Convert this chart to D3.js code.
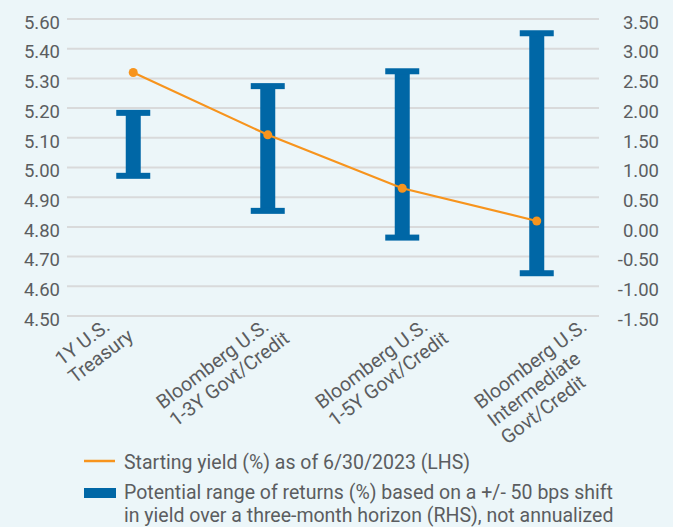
<!DOCTYPE html>
<html>
<head>
<meta charset="utf-8">
<script src="https://cdn.jsdelivr.net/npm/d3@7"></script>
<style>
  body { margin: 0; background: #ecf6f9; }
  text { font-family: Roboto, "DejaVu Sans", sans-serif; fill: #5b5d60; }
</style>
</head>
<body>
<div id="chart"></div>
<script>
// Data
// ================================
var categories = ["1Y U.S. Treasury", "Bloomberg U.S. 1-3Y Govt/Credit",
  "Bloomberg U.S. 1-5Y Govt/Credit", "Bloomberg U.S. Intermediate Govt/Credit"];
var categoryLines = [
  ["1Y U.S.", "Treasury"],
  ["Bloomberg U.S.", "1-3Y Govt/Credit"],
  ["Bloomberg U.S.", "1-5Y Govt/Credit"],
  ["Bloomberg U.S.", "Intermediate", "Govt/Credit"]
];
var startingYield = [5.32, 5.11, 4.93, 4.82];   // LHS
var rangeHigh = [1.92, 2.37, 2.62, 3.26];       // RHS
var rangeLow = [0.86, 0.27, -0.18, -0.78];      // RHS

var leftTicks = [4.5, 4.6, 4.7, 4.8, 4.9, 5.0, 5.1, 5.2, 5.3, 5.4, 5.5];
var leftTickLabels = ["4.50", "4.60", "4.70", "4.80", "4.90", "5.00", "5.10", "5.20", "5.30", "5.40", "5.60"];
var rightTicks = [-1.5, -1, -0.5, 0, 0.5, 1, 1.5, 2, 2.5, 3, 3.5];

var legendYield = "Starting yield (%) as of 6/30/2023 (LHS)";
var legendRange = ["Potential range of returns (%) based on a +/- 50 bps shift",
  "in yield over a three-month horizon (RHS), not annualized"];

// Set up chart
// ================================
var svgWidth = 673;
var svgHeight = 527;
var plot = { left: 67, right: 599, top: 19, bottom: 316 };

var blue = "#0067a6";
var orange = "#f7941d";
var grid = "#d9dadb";

var svg = d3.select("#chart")
  .append("svg")
  .attr("width", svgWidth)
  .attr("height", svgHeight);

svg.append("rect")
  .attr("width", svgWidth)
  .attr("height", svgHeight)
  .attr("fill", "#ecf6f9");

// scales
var xScale = d3.scalePoint()
  .domain(categories)
  .range([66, 604])
  .padding(0.5);

var labelScale = d3.scalePoint()
  .domain(categories)
  .range([111, 588]);

var yLeft = d3.scaleLinear()
  .domain([4.5, 5.5])
  .range([plot.bottom, plot.top]);

var yRight = d3.scaleLinear()
  .domain([-1.5, 3.5])
  .range([plot.bottom, plot.top]);

// gridlines
svg.append("g")
  .selectAll("line")
  .data(rightTicks)
  .enter()
  .append("line")
  .attr("x1", plot.left)
  .attr("x2", plot.right)
  .attr("y1", d => yRight(d))
  .attr("y2", d => yRight(d))
  .attr("stroke", grid)
  .attr("stroke-width", 2);

// left axis
var leftAxis = d3.axisLeft(yLeft)
  .tickValues(leftTicks)
  .tickFormat((d, i) => leftTickLabels[i])
  .tickSize(0)
  .tickPadding(7);

svg.append("g")
  .attr("transform", `translate(${plot.left}, 0)`)
  .call(leftAxis)
  .call(g => g.select(".domain").remove())
  .selectAll("text")
  .attr("dy", "0.5em")
  .style("font-size", "18.5px")
  .style("font-family", "Roboto, sans-serif")
  .attr("fill", "#5b5d60");

// right axis (plain hyphen for negatives)
var rightAxis = d3.axisLeft(yRight)
  .tickValues(rightTicks)
  .tickFormat(d => d.toFixed(2))
  .tickSize(0)
  .tickPadding(0);

svg.append("g")
  .attr("transform", "translate(659, 0)")
  .call(rightAxis)
  .call(g => g.select(".domain").remove())
  .selectAll("text")
  .attr("dy", "0.5em")
  .style("font-size", "18.5px")
  .style("font-family", "Roboto, sans-serif")
  .attr("fill", "#5b5d60");

// range bars (I-beams)
var bars = svg.append("g")
  .selectAll("g")
  .data(categories)
  .enter()
  .append("g");

bars.append("rect")
  .attr("x", d => xScale(d) - 7.5)
  .attr("width", 15)
  .attr("y", (d, i) => yRight(rangeHigh[i]))
  .attr("height", (d, i) => yRight(rangeLow[i]) - yRight(rangeHigh[i]))
  .attr("fill", blue);

bars.append("rect")
  .attr("x", d => xScale(d) - 17)
  .attr("width", 34)
  .attr("y", (d, i) => yRight(rangeHigh[i]) - 3)
  .attr("height", 6)
  .attr("fill", blue);

bars.append("rect")
  .attr("x", d => xScale(d) - 17)
  .attr("width", 34)
  .attr("y", (d, i) => yRight(rangeLow[i]) - 3)
  .attr("height", 6)
  .attr("fill", blue);

// starting yield line
var line = d3.line()
  .x((d, i) => xScale(categories[i]))
  .y(d => yLeft(d));

svg.append("path")
  .datum(startingYield)
  .attr("d", line)
  .attr("fill", "none")
  .attr("stroke", orange)
  .attr("stroke-width", 2.2);

svg.append("g")
  .selectAll("circle")
  .data(startingYield)
  .enter()
  .append("circle")
  .attr("cx", (d, i) => xScale(categories[i]))
  .attr("cy", d => yLeft(d))
  .attr("r", 4.5)
  .attr("fill", orange);

// category labels, rotated
categories.forEach(function (c, i) {
  var g = svg.append("g")
    .attr("transform", `translate(${labelScale(c)}, 329) rotate(-37)`);
  var first = g.append("text")
    .attr("text-anchor", "end")
    .style("font-size", "19.5px")
    .text(categoryLines[i][0]);
  var w = first.node().getComputedTextLength();
  categoryLines[i].slice(1).forEach(function (t, k) {
    g.append("text")
      .attr("x", -w)
      .attr("y", (k + 1) * 22)
      .style("font-size", "19.5px")
      .text(t);
  });
});

// legend
var legend = svg.append("g");

legend.append("line")
  .attr("x1", 84)
  .attr("x2", 115)
  .attr("y1", 461)
  .attr("y2", 461)
  .attr("stroke", orange)
  .attr("stroke-width", 2.5);

legend.append("text")
  .attr("x", 124)
  .attr("y", 469)
  .style("font-size", "19.5px")
  .text(legendYield);

legend.append("rect")
  .attr("x", 84)
  .attr("y", 488)
  .attr("width", 32)
  .attr("height", 10)
  .attr("fill", blue);

legend.selectAll("text.range")
  .data(legendRange)
  .enter()
  .append("text")
  .classed("range", true)
  .attr("x", 124)
  .attr("y", (d, i) => 499 + i * 23)
  .style("font-size", "19.5px")
  .text(d => d);
</script>
</body>
</html>
